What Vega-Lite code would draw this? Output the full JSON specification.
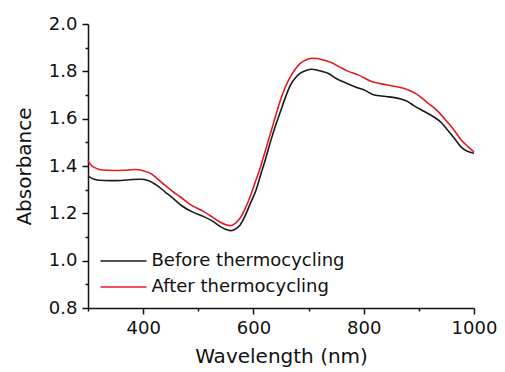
{
  "$schema": "https://vega.github.io/schema/vega-lite/v6.json",
  "width": 386,
  "height": 284,
  "autosize": {"type": "none"},
  "padding": {"left": 88, "top": 24, "right": 31, "bottom": 64},
  "background": "white",
  "config": {
    "view": {"stroke": null},
    "font": "DejaVu Sans"
  },
  "datasets": {
    "spectra": [
      {"wl": 300, "abs": 1.357, "series": "Before thermocycling"},
      {"wl": 310, "abs": 1.345, "series": "Before thermocycling"},
      {"wl": 320, "abs": 1.340, "series": "Before thermocycling"},
      {"wl": 340, "abs": 1.338, "series": "Before thermocycling"},
      {"wl": 360, "abs": 1.339, "series": "Before thermocycling"},
      {"wl": 380, "abs": 1.343, "series": "Before thermocycling"},
      {"wl": 395, "abs": 1.344, "series": "Before thermocycling"},
      {"wl": 410, "abs": 1.338, "series": "Before thermocycling"},
      {"wl": 425, "abs": 1.318, "series": "Before thermocycling"},
      {"wl": 440, "abs": 1.290, "series": "Before thermocycling"},
      {"wl": 455, "abs": 1.262, "series": "Before thermocycling"},
      {"wl": 470, "abs": 1.232, "series": "Before thermocycling"},
      {"wl": 490, "abs": 1.205, "series": "Before thermocycling"},
      {"wl": 510, "abs": 1.186, "series": "Before thermocycling"},
      {"wl": 525, "abs": 1.168, "series": "Before thermocycling"},
      {"wl": 540, "abs": 1.144, "series": "Before thermocycling"},
      {"wl": 550, "abs": 1.132, "series": "Before thermocycling"},
      {"wl": 558, "abs": 1.127, "series": "Before thermocycling"},
      {"wl": 565, "abs": 1.131, "series": "Before thermocycling"},
      {"wl": 576, "abs": 1.151, "series": "Before thermocycling"},
      {"wl": 585, "abs": 1.190, "series": "Before thermocycling"},
      {"wl": 595, "abs": 1.245, "series": "Before thermocycling"},
      {"wl": 605, "abs": 1.300, "series": "Before thermocycling"},
      {"wl": 613, "abs": 1.362, "series": "Before thermocycling"},
      {"wl": 622, "abs": 1.430, "series": "Before thermocycling"},
      {"wl": 631, "abs": 1.503, "series": "Before thermocycling"},
      {"wl": 640, "abs": 1.570, "series": "Before thermocycling"},
      {"wl": 649, "abs": 1.630, "series": "Before thermocycling"},
      {"wl": 658, "abs": 1.690, "series": "Before thermocycling"},
      {"wl": 667, "abs": 1.742, "series": "Before thermocycling"},
      {"wl": 676, "abs": 1.772, "series": "Before thermocycling"},
      {"wl": 685, "abs": 1.792, "series": "Before thermocycling"},
      {"wl": 695, "abs": 1.803, "series": "Before thermocycling"},
      {"wl": 705, "abs": 1.809, "series": "Before thermocycling"},
      {"wl": 715, "abs": 1.806, "series": "Before thermocycling"},
      {"wl": 725, "abs": 1.799, "series": "Before thermocycling"},
      {"wl": 735, "abs": 1.792, "series": "Before thermocycling"},
      {"wl": 750, "abs": 1.770, "series": "Before thermocycling"},
      {"wl": 770, "abs": 1.749, "series": "Before thermocycling"},
      {"wl": 790, "abs": 1.730, "series": "Before thermocycling"},
      {"wl": 800, "abs": 1.722, "series": "Before thermocycling"},
      {"wl": 819, "abs": 1.700, "series": "Before thermocycling"},
      {"wl": 840, "abs": 1.694, "series": "Before thermocycling"},
      {"wl": 867, "abs": 1.683, "series": "Before thermocycling"},
      {"wl": 880, "abs": 1.672, "series": "Before thermocycling"},
      {"wl": 891, "abs": 1.655, "series": "Before thermocycling"},
      {"wl": 910, "abs": 1.630, "series": "Before thermocycling"},
      {"wl": 928, "abs": 1.606, "series": "Before thermocycling"},
      {"wl": 940, "abs": 1.585, "series": "Before thermocycling"},
      {"wl": 952, "abs": 1.552, "series": "Before thermocycling"},
      {"wl": 965, "abs": 1.515, "series": "Before thermocycling"},
      {"wl": 976, "abs": 1.482, "series": "Before thermocycling"},
      {"wl": 988, "abs": 1.462, "series": "Before thermocycling"},
      {"wl": 1000, "abs": 1.454, "series": "Before thermocycling"},
      {"wl": 300, "abs": 1.423, "series": "After thermocycling"},
      {"wl": 305, "abs": 1.405, "series": "After thermocycling"},
      {"wl": 315, "abs": 1.390, "series": "After thermocycling"},
      {"wl": 325, "abs": 1.383, "series": "After thermocycling"},
      {"wl": 345, "abs": 1.381, "series": "After thermocycling"},
      {"wl": 365, "abs": 1.382, "series": "After thermocycling"},
      {"wl": 385, "abs": 1.385, "series": "After thermocycling"},
      {"wl": 400, "abs": 1.380, "series": "After thermocycling"},
      {"wl": 415, "abs": 1.367, "series": "After thermocycling"},
      {"wl": 425, "abs": 1.348, "series": "After thermocycling"},
      {"wl": 440, "abs": 1.318, "series": "After thermocycling"},
      {"wl": 455, "abs": 1.290, "series": "After thermocycling"},
      {"wl": 467, "abs": 1.270, "series": "After thermocycling"},
      {"wl": 485, "abs": 1.238, "series": "After thermocycling"},
      {"wl": 510, "abs": 1.207, "series": "After thermocycling"},
      {"wl": 525, "abs": 1.185, "series": "After thermocycling"},
      {"wl": 540, "abs": 1.162, "series": "After thermocycling"},
      {"wl": 550, "abs": 1.152, "series": "After thermocycling"},
      {"wl": 558, "abs": 1.148, "series": "After thermocycling"},
      {"wl": 567, "abs": 1.158, "series": "After thermocycling"},
      {"wl": 576, "abs": 1.180, "series": "After thermocycling"},
      {"wl": 585, "abs": 1.220, "series": "After thermocycling"},
      {"wl": 594, "abs": 1.270, "series": "After thermocycling"},
      {"wl": 603, "abs": 1.330, "series": "After thermocycling"},
      {"wl": 613, "abs": 1.397, "series": "After thermocycling"},
      {"wl": 622, "abs": 1.468, "series": "After thermocycling"},
      {"wl": 631, "abs": 1.538, "series": "After thermocycling"},
      {"wl": 640, "abs": 1.610, "series": "After thermocycling"},
      {"wl": 649, "abs": 1.679, "series": "After thermocycling"},
      {"wl": 658, "abs": 1.735, "series": "After thermocycling"},
      {"wl": 667, "abs": 1.777, "series": "After thermocycling"},
      {"wl": 676, "abs": 1.810, "series": "After thermocycling"},
      {"wl": 685, "abs": 1.834, "series": "After thermocycling"},
      {"wl": 695, "abs": 1.848, "series": "After thermocycling"},
      {"wl": 705, "abs": 1.855, "series": "After thermocycling"},
      {"wl": 715, "abs": 1.854, "series": "After thermocycling"},
      {"wl": 725, "abs": 1.849, "series": "After thermocycling"},
      {"wl": 740, "abs": 1.838, "series": "After thermocycling"},
      {"wl": 755, "abs": 1.820, "series": "After thermocycling"},
      {"wl": 770, "abs": 1.802, "series": "After thermocycling"},
      {"wl": 790, "abs": 1.785, "series": "After thermocycling"},
      {"wl": 813, "abs": 1.758, "series": "After thermocycling"},
      {"wl": 830, "abs": 1.748, "series": "After thermocycling"},
      {"wl": 843, "abs": 1.742, "series": "After thermocycling"},
      {"wl": 860, "abs": 1.735, "series": "After thermocycling"},
      {"wl": 880, "abs": 1.722, "series": "After thermocycling"},
      {"wl": 895, "abs": 1.705, "series": "After thermocycling"},
      {"wl": 916, "abs": 1.667, "series": "After thermocycling"},
      {"wl": 935, "abs": 1.630, "series": "After thermocycling"},
      {"wl": 952, "abs": 1.585, "series": "After thermocycling"},
      {"wl": 965, "abs": 1.548, "series": "After thermocycling"},
      {"wl": 976, "abs": 1.512, "series": "After thermocycling"},
      {"wl": 990, "abs": 1.480, "series": "After thermocycling"},
      {"wl": 1000, "abs": 1.460, "series": "After thermocycling"}
    ]
  },
  "data": {"name": "spectra"},
  "mark": {"type": "line", "strokeWidth": 1.6, "interpolate": "monotone"},
  "encoding": {
    "x": {
      "field": "wl",
      "type": "quantitative",
      "scale": {"domain": [300, 1000], "nice": false, "zero": false},
      "axis": {
        "title": "Wavelength (nm)",
        "values": [300, 400, 500, 600, 700, 800, 900, 1000],
        "labelExpr": "datum.value % 200 == 0 ? datum.value : ''",
        "tickSize": {"condition": {"test": "datum.value % 200 == 0", "value": 6}, "value": 3},
        "grid": false,
        "labelFlush": false,
        "labelOverlap": false,
        "domainColor": "#111111",
        "domainWidth": 1.5,
        "tickColor": "#111111",
        "tickWidth": 1.5,
        "labelColor": "#111111",
        "labelFont": "DejaVu Sans",
        "labelFontSize": 18,
        "labelPadding": 5,
        "titleFont": "DejaVu Sans",
        "titleFontSize": 20,
        "titleFontWeight": "normal",
        "titleColor": "#111111",
        "titlePadding": 9
      }
    },
    "y": {
      "field": "abs",
      "type": "quantitative",
      "scale": {"domain": [0.8, 2.0], "nice": false, "zero": false},
      "axis": {
        "title": "Absorbance",
        "values": [0.8, 0.9, 1.0, 1.1, 1.2, 1.3, 1.4, 1.5, 1.6, 1.7, 1.8, 1.9, 2.0],
        "labelExpr": "round(datum.value * 10) % 2 == 0 ? format(datum.value, '.1f') : ''",
        "tickSize": {"condition": {"test": "round(datum.value * 10) % 2 == 0", "value": 6}, "value": 3},
        "grid": false,
        "labelOverlap": false,
        "labelFlush": false,
        "domainColor": "#111111",
        "domainWidth": 1.5,
        "tickColor": "#111111",
        "tickWidth": 1.5,
        "labelColor": "#111111",
        "labelFont": "DejaVu Sans",
        "labelFontSize": 18,
        "labelPadding": 5,
        "titleFont": "DejaVu Sans",
        "titleFontSize": 20,
        "titleFontWeight": "normal",
        "titleColor": "#111111",
        "titlePadding": 14
      }
    },
    "color": {
      "field": "series",
      "type": "nominal",
      "scale": {
        "domain": ["Before thermocycling", "After thermocycling"],
        "range": ["#1a1a1a", "#e31a22"]
      },
      "legend": {
        "title": null,
        "orient": "none",
        "legendX": 10,
        "legendY": 228,
        "padding": 0,
        "symbolType": "M-4,0H4",
        "symbolSize": 132,
        "symbolStrokeWidth": 1.6,
        "symbolOffset": 16.5,
        "labelFont": "DejaVu Sans",
        "labelFontSize": 18,
        "labelColor": "#111111",
        "labelOffset": 19,
        "labelLimit": 300,
        "rowPadding": 8
      }
    }
  }
}
